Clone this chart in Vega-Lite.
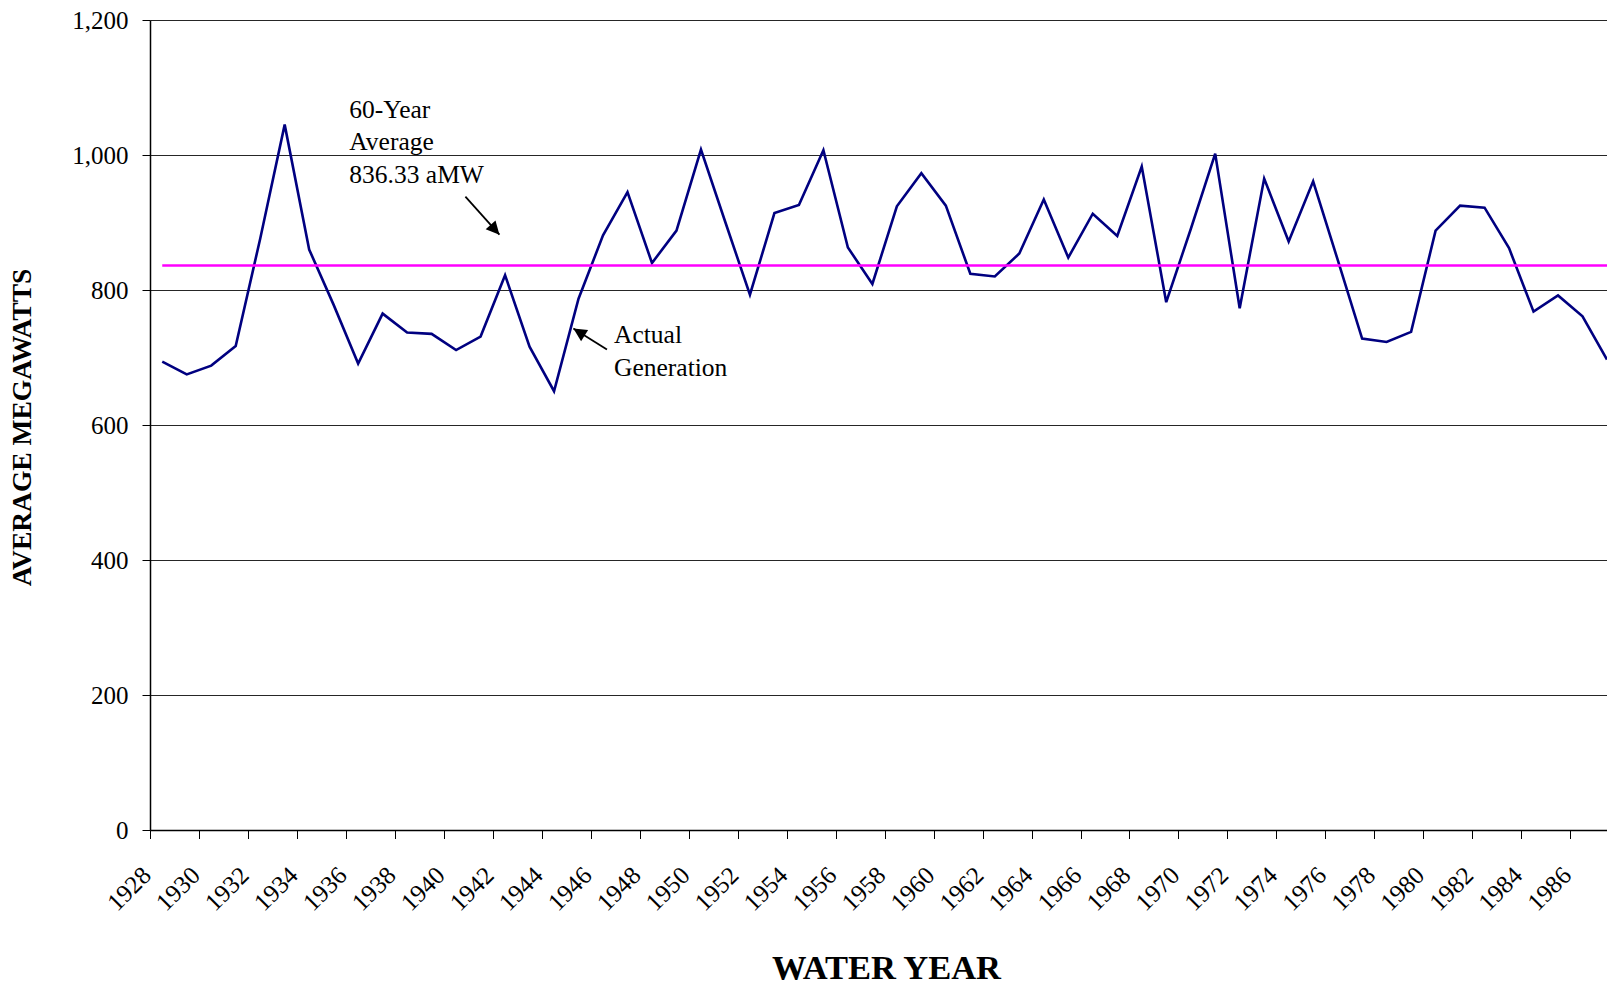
{
  "$schema": "https://vega.github.io/schema/vega-lite/v6.json",
  "autosize": {"type": "none"},
  "width": 1457,
  "height": 810,
  "padding": {"left": 150, "top": 20, "right": 0, "bottom": 159},
  "background": "white",
  "config": {
    "view": {"stroke": null},
    "font": "Liberation Serif"
  },
  "datasets": {
    "gen": [
      {"year": 1928, "value": 694}, {"year": 1929, "value": 675}, {"year": 1930, "value": 688},
      {"year": 1931, "value": 717}, {"year": 1932, "value": 876}, {"year": 1933, "value": 1045},
      {"year": 1934, "value": 860}, {"year": 1935, "value": 778}, {"year": 1936, "value": 691},
      {"year": 1937, "value": 765}, {"year": 1938, "value": 737}, {"year": 1939, "value": 735},
      {"year": 1940, "value": 711}, {"year": 1941, "value": 731}, {"year": 1942, "value": 822},
      {"year": 1943, "value": 716}, {"year": 1944, "value": 650}, {"year": 1945, "value": 787},
      {"year": 1946, "value": 881}, {"year": 1947, "value": 945}, {"year": 1948, "value": 840},
      {"year": 1949, "value": 888}, {"year": 1950, "value": 1008}, {"year": 1951, "value": 900},
      {"year": 1952, "value": 793}, {"year": 1953, "value": 914}, {"year": 1954, "value": 926},
      {"year": 1955, "value": 1007}, {"year": 1956, "value": 863}, {"year": 1957, "value": 809},
      {"year": 1958, "value": 924}, {"year": 1959, "value": 973}, {"year": 1960, "value": 925},
      {"year": 1961, "value": 824}, {"year": 1962, "value": 820}, {"year": 1963, "value": 854},
      {"year": 1964, "value": 934}, {"year": 1965, "value": 848}, {"year": 1966, "value": 913},
      {"year": 1967, "value": 880}, {"year": 1968, "value": 983}, {"year": 1969, "value": 782},
      {"year": 1970, "value": 890}, {"year": 1971, "value": 1002}, {"year": 1972, "value": 773},
      {"year": 1973, "value": 965}, {"year": 1974, "value": 872}, {"year": 1975, "value": 961},
      {"year": 1976, "value": 845}, {"year": 1977, "value": 728}, {"year": 1978, "value": 723},
      {"year": 1979, "value": 738}, {"year": 1980, "value": 888}, {"year": 1981, "value": 925},
      {"year": 1982, "value": 922}, {"year": 1983, "value": 862}, {"year": 1984, "value": 768},
      {"year": 1985, "value": 792}, {"year": 1986, "value": 761}, {"year": 1987, "value": 697}
    ],
    "avg": [{"year": 1928, "year2": 1987, "value": 836.33}],
    "notes": [
      {"year": 1935.64, "value": 1055.5, "text": "60-Year\nAverage\n836.33 aMW"},
      {"year": 1946.45, "value": 721.7, "text": "Actual\nGeneration"}
    ],
    "arrows": [
      {"id": "avg", "year": 1940.38, "value": 938.3, "year2": 1941.77, "value2": 881.9},
      {"id": "gen", "year": 1946.16, "value": 711.7, "year2": 1944.79, "value2": 742.9}
    ]
  },
  "layer": [
    {
      "data": {"name": "gen"},
      "mark": {"type": "line", "color": "#000080", "strokeWidth": 2.6, "clip": true},
      "encoding": {
        "x": {
          "field": "year", "type": "quantitative",
          "scale": {"domain": [1927.5, 1987.0], "nice": false, "zero": false},
          "axis": {
            "title": "WATER YEAR",
            "titleFont": "Liberation Serif", "titleFontSize": 34.5, "titleFontWeight": "bold", "titleColor": "black",
            "titleX": 736, "titleY": 138, "titleAlign": "center", "titleBaseline": "middle", "titleAnchor": null,
            "grid": false,
            "domainColor": "black", "domainWidth": 1.5,
            "ticks": true, "tickColor": "black", "tickSize": 8.5, "tickWidth": 1,
            "values": [1927.5, 1928.5, 1929.5, 1930.5, 1931.5, 1932.5, 1933.5, 1934.5, 1935.5, 1936.5,
                       1937.5, 1938.5, 1939.5, 1940.5, 1941.5, 1942.5, 1943.5, 1944.5, 1945.5, 1946.5,
                       1947.5, 1948.5, 1949.5, 1950.5, 1951.5, 1952.5, 1953.5, 1954.5, 1955.5, 1956.5,
                       1957.5, 1958.5, 1959.5, 1960.5, 1961.5, 1962.5, 1963.5, 1964.5, 1965.5, 1966.5,
                       1967.5, 1968.5, 1969.5, 1970.5, 1971.5, 1972.5, 1973.5, 1974.5, 1975.5, 1976.5,
                       1977.5, 1978.5, 1979.5, 1980.5, 1981.5, 1982.5, 1983.5, 1984.5, 1985.5, 1986.5],
            "labelExpr": "(datum.value + 0.5) % 2 == 0 ? '' + (datum.value + 0.5) : ''",
            "labelAngle": -45, "labelAlign": "right", "labelBaseline": "alphabetic",
            "labelPadding": 38, "labelOffset": 2,
            "labelFont": "Liberation Serif", "labelFontSize": 25, "labelColor": "black",
            "labelOverlap": false, "labelBound": false, "labelFlush": false
          }
        },
        "y": {
          "field": "value", "type": "quantitative",
          "scale": {"domain": [0, 1200], "nice": false, "zero": true},
          "axis": {
            "title": "AVERAGE MEGAWATTS",
            "titleFont": "Liberation Serif", "titleFontSize": 27.5, "titleFontWeight": "bold", "titleColor": "black",
            "titleAngle": 270, "titleX": -127.5, "titleY": 407, "titleAlign": "center", "titleBaseline": "middle", "titleAnchor": null,
            "values": [0, 200, 400, 600, 800, 1000, 1200],
            "format": ",.0f",
            "grid": true, "gridColor": "black", "gridWidth": 1, "gridOpacity": 0.85,
            "domainColor": "black", "domainWidth": 1.5,
            "tickColor": "black", "tickSize": 8, "tickWidth": 1,
            "labelFont": "Liberation Serif", "labelFontSize": 25, "labelColor": "black",
            "labelPadding": 14, "labelOverlap": false, "labelBound": false, "labelFlush": false
          }
        }
      }
    },
    {
      "data": {"name": "avg"},
      "mark": {"type": "rule", "color": "#FF00FF", "strokeWidth": 2.5, "clip": true},
      "encoding": {
        "x": {"field": "year", "type": "quantitative", "scale": {"domain": [1927.5, 1987.0], "nice": false, "zero": false}},
        "x2": {"field": "year2"},
        "y": {"field": "value", "type": "quantitative", "scale": {"domain": [0, 1200], "nice": false, "zero": true}}
      }
    },
    {
      "data": {"name": "notes"},
      "mark": {"type": "text", "align": "left", "baseline": "alphabetic", "font": "Liberation Serif", "fontSize": 25.5, "lineBreak": "\n", "lineHeight": 32.8, "color": "black"},
      "encoding": {
        "x": {"field": "year", "type": "quantitative"},
        "y": {"field": "value", "type": "quantitative"},
        "text": {"field": "text"}
      }
    },
    {
      "data": {"name": "arrows"},
      "mark": {"type": "rule", "color": "black", "strokeWidth": 1.8},
      "encoding": {
        "x": {"field": "year", "type": "quantitative"},
        "y": {"field": "value", "type": "quantitative"},
        "x2": {"field": "year2"},
        "y2": {"field": "value2"}
      }
    },
    {
      "data": {"name": "arrows"},
      "transform": [{"filter": "datum.id == 'avg'"}],
      "mark": {"type": "point", "shape": "M0,0 L-0.5,1 L0.5,1 Z", "filled": true, "color": "black", "opacity": 1, "size": 700, "angle": 138},
      "encoding": {
        "x": {"field": "year2", "type": "quantitative"},
        "y": {"field": "value2", "type": "quantitative"}
      }
    },
    {
      "data": {"name": "arrows"},
      "transform": [{"filter": "datum.id == 'gen'"}],
      "mark": {"type": "point", "shape": "M0,0 L-0.5,1 L0.5,1 Z", "filled": true, "color": "black", "opacity": 1, "size": 700, "angle": 302},
      "encoding": {
        "x": {"field": "year2", "type": "quantitative"},
        "y": {"field": "value2", "type": "quantitative"}
      }
    }
  ]
}
